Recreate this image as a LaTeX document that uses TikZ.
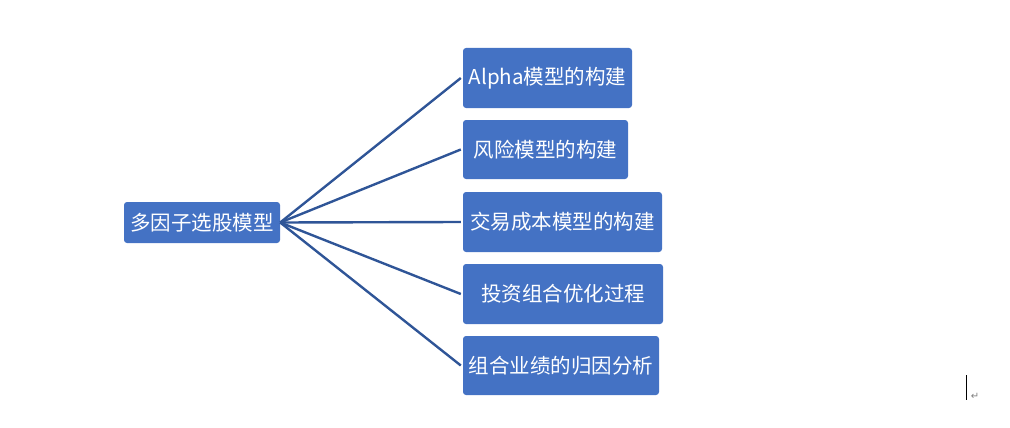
\documentclass[tikz,border=0pt]{standalone}
\usepackage{fontspec}
\newfontfamily\cjk{Noto Sans CJK SC}
\newfontfamily\dejavu{DejaVu Sans}
\definecolor{boxblue}{HTML}{4472C4}
\definecolor{linkblue}{HTML}{2F5597}
\begin{document}
\begin{tikzpicture}[x=1pt,y=-1pt,
  box/.style={fill=boxblue,rounded corners=3pt,text=white,font=\cjk\fontsize{20.5}{24}\selectfont,inner sep=0pt,align=center},
  link/.style={draw=linkblue,line width=2.4pt}]
\useasboundingbox (0,0) rectangle (1010,428);
\node[box,minimum width=156pt,minimum height=41pt] (root) at (202,222.5) {多因子选股模型};
\node[box,minimum width=169pt,minimum height=60pt] (a) at (547.5,78) {Alpha模型的构建};
\node[box,minimum width=165pt,minimum height=59pt] (b) at (545.5,149.5) {风险模型的构建};
\node[box,minimum width=199pt,minimum height=60pt] (c) at (562.5,222) {交易成本模型的构建};
\node[box,minimum width=200pt,minimum height=60pt] (d) at (563,294) {投资组合优化过程};
\node[box,minimum width=196pt,minimum height=59pt] (e) at (561,365.5) {组合业绩的归因分析};
\foreach \t in {a,b,c,d,e}{
  \draw[link] (root.east) -- ([xshift=-2pt]\t.west);
}
\coordinate (cur1) at (966.5,375);
\coordinate (cur2) at (966.5,400);
\draw[line width=1pt] (cur1) -- (cur2);
\node[text=gray,font=\dejavu\fontsize{10}{10}\selectfont,inner sep=0pt] (ret) at (975,396) {↵};
\end{tikzpicture}
\end{document}
